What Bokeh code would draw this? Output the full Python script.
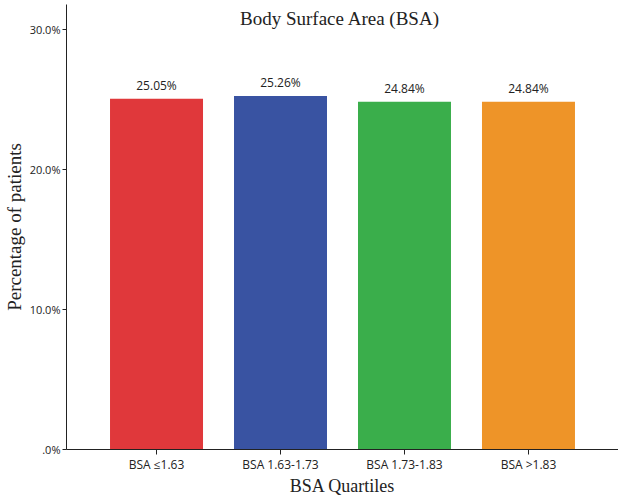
from bokeh.plotting import figure
from bokeh.models import FactorRange, Range1d, FixedTicker, ColumnDataSource, Label
from bokeh.embed import file_html
from bokeh.resources import INLINE
from bokeh.core.properties import value

# ---- data ----
categories = ["BSA \u22641.63", "BSA 1.63-1.73", "BSA 1.73-1.83", "BSA >1.83"]
percentages = [25.05, 25.26, 24.84, 24.84]
value_labels = ["25.05%", "25.26%", "24.84%", "24.84%"]
bar_colors = ["#E0383B", "#3953A2", "#3AAE4B", "#EE9428"]
y_ticks = [0, 10, 20, 30]
y_tick_labels = [".0%", "10.0%", "20.0%", "30.0%"]

title_text = "Body Surface Area (BSA)"
x_title = "BSA Quartiles"
y_title = "Percentage of patients"

src = ColumnDataSource(dict(cat=categories, pct=percentages, lab=value_labels, col=bar_colors))

p = figure(
    width=618, height=501,
    x_range=FactorRange(factors=categories, range_padding=0.113),
    y_range=Range1d(0, 31.79),
    output_backend="svg", toolbar_location=None,
    min_border_left=66, min_border_right=0, min_border_top=4, min_border_bottom=52,
)
p.outline_line_color = None
p.xgrid.visible = False
p.ygrid.visible = False
p.background_fill_color = "white"
p.border_fill_color = "white"

p.vbar(x="cat", top="pct", width=0.75, color="col", line_color=None, source=src)

p.text(x="cat", y="pct", text="lab", source=src, y_offset=-13,
       text_align="center", text_baseline="alphabetic",
       text_font=value("Open Sans"), text_font_size="12px", text_color="#222222")

# axes
xa = p.xaxis[0]
xa.axis_line_color = "#222222"
xa.major_tick_line_color = "#222222"
xa.major_tick_in = 0
xa.major_tick_out = 5
xa.major_label_standoff = 1
xa.major_label_text_font = "Open Sans"
xa.major_label_text_font_size = "12px"
xa.major_label_text_color = "#222222"
xa.axis_label = x_title
xa.axis_label_text_font = "Liberation Serif"
xa.axis_label_text_font_style = "normal"
xa.axis_label_text_font_size = "18px"
xa.axis_label_text_color = "#222222"
xa.axis_label_standoff = 0

ya = p.yaxis[0]
ya.ticker = FixedTicker(ticks=y_ticks)
ya.major_label_overrides = {t: l for t, l in zip(y_ticks, y_tick_labels)}
ya.axis_line_color = "#222222"
ya.major_tick_line_color = "#222222"
ya.minor_tick_line_color = None
ya.major_tick_in = 0
ya.major_tick_out = 4
ya.major_label_standoff = 2
ya.major_label_text_font = "Open Sans"
ya.major_label_text_font_size = "11px"
ya.major_label_text_color = "#222222"
ya.axis_label = y_title
ya.axis_label_text_font = "Liberation Serif"
ya.axis_label_text_font_style = "normal"
ya.axis_label_text_font_size = "19px"
ya.axis_label_text_color = "#222222"
ya.axis_label_standoff = 2

# title inside plot area
p.add_layout(Label(x=1.98, y=30.77, text=title_text, text_align="center",
                   text_baseline="alphabetic", text_font="Liberation Serif",
                   text_font_size="19px", text_color="#222222"))

open("out.html", "w").write(file_html(p, INLINE))
